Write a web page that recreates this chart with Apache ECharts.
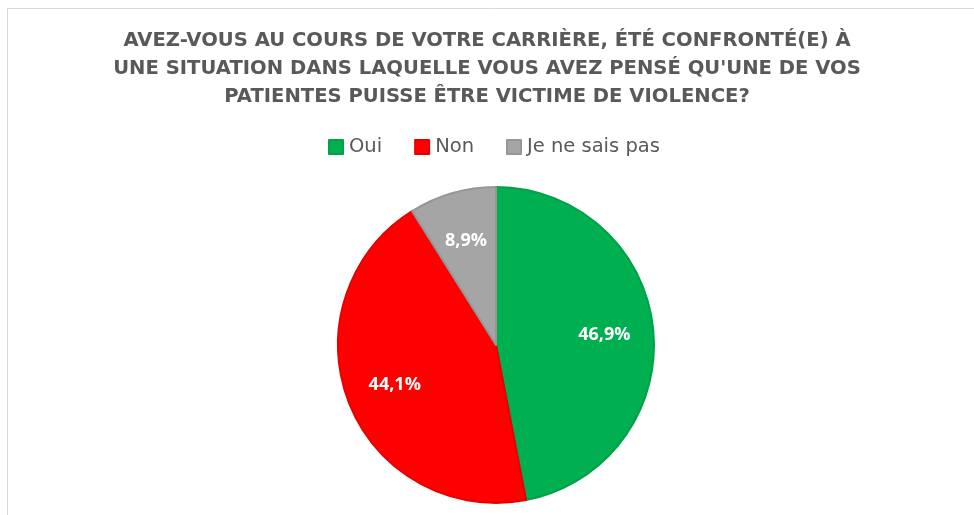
<!DOCTYPE html>
<html>
<head>
<meta charset="utf-8">
<script src="https://cdn.jsdelivr.net/npm/echarts@6/dist/echarts.min.js"></script>
<style>
    html, body { margin: 0; padding: 0; background: #fff; overflow: hidden; }
    #main { width: 974px; height: 515px; }
</style>
</head>
<body>
<div id="main"></div>
<script>
// réponses et pourcentages
var categories = ['Oui', 'Non', 'Je ne sais pas'];
var values = [46.9, 44.1, 8.9];
var colors = ['#00B050', '#FF0000', '#A5A5A5'];
var borders = ['#00A148', '#E80000', '#969696'];

var titleText = "AVEZ-VOUS AU COURS DE VOTRE CARRIÈRE, ÉTÉ CONFRONTÉ(E) À\nUNE SITUATION DANS LAQUELLE VOUS AVEZ PENSÉ QU'UNE DE VOS\nPATIENTES PUISSE ÊTRE VICTIME DE VIOLENCE?";

var titleFont = '"DejaVu Sans", sans-serif';
var labelFont = '"Open Sans", "Noto Sans", sans-serif';
var R = 158;

var pieData = [];
for (var i = 0; i < categories.length; i++) {
    pieData.push({
        name : categories[i],
        value : values[i],
        itemStyle : {
            color : colors[i],
            borderColor : borders[i]
        }
    });
}

var myChart = echarts.init(document.getElementById('main'));
var option = {
    animation : false,
    backgroundColor : '#fff',
    graphic : [ {
        type : 'rect',
        shape : { x : 7.5, y : 8.5, width : 1000, height : 600 },
        style : { fill : 'none', stroke : '#D9D9D9', lineWidth : 1 },
        silent : true
    } ],
    title : {
        text : titleText,
        left : 'center',
        top : 22,
        textStyle : {
            fontFamily : titleFont,
            fontSize : 19.6,
            fontWeight : 'bold',
            color : '#595959',
            lineHeight : 28
        }
    },
    legend : {
        data : categories,
        top : 132,
        left : 323,
        icon : 'rect',
        itemWidth : 14,
        itemHeight : 14,
        itemGap : 32,
        textStyle : {
            fontFamily : titleFont,
            fontSize : 19.5,
            color : '#595959',
            padding : [0, 0, 0, 1]
        }
    },
    series : [ {
        type : 'pie',
        center : [496, 345],
        radius : [0, R],
        startAngle : 90,
        clockwise : true,
        label : { show : false },
        labelLine : { show : false },
        itemStyle : { borderWidth : 2 },
        emphasis : { disabled : true },
        data : pieData
    }, {
        // couche des étiquettes, placées vers 0,67 du rayon
        type : 'pie',
        center : [496, 345],
        radius : [R * 0.34, R],
        startAngle : 90,
        silent : true,
        itemStyle : { color : 'transparent', borderWidth : 0 },
        label : {
            show : true,
            position : 'inside',
            fontFamily : labelFont,
            fontSize : 18,
            fontWeight : 'bold',
            color : '#fff',
            formatter : function(p) {
                return p.value.toFixed(1).replace('.', ',') + '%';
            }
        },
        labelLine : { show : false },
        emphasis : { disabled : true },
        data : categories.map(function(c, i) {
            return { name : c, value : values[i] };
        })
    } ]
};
myChart.setOption(option);
</script>
</body>
</html>
